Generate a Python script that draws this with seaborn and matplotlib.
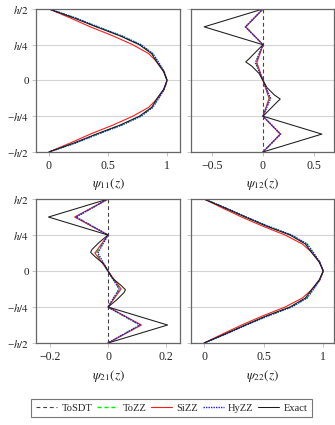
import numpy as np
import pandas as pd
import matplotlib
matplotlib.use('Agg')
import matplotlib.pyplot as plt
import seaborn as sns

sns.set_theme(style='white')
plt.rcParams['font.family'] = ['Liberation Serif', 'DejaVu Serif']
plt.rcParams['mathtext.fontset'] = 'stix'
plt.rcParams['axes.unicode_minus'] = True

# ── Data (z / h) ────────────────────────────────────────────────────────────
z_prof = [0.5, 0.4375, 0.375, 0.3125, 0.25, 0.1875, 0.125, 0.0625, 0.0,
          -0.0625, -0.125, -0.1875, -0.25, -0.3125, -0.375, -0.4375, -0.5]
z_zig = [0.5, 0.375, 0.25, 0.125, 0.0, -0.125, -0.25, -0.375, -0.5]
z_zig_exact = [0.5, 0.375, 0.25, 0.2, 0.15, 0.13, 0.1, 0.05, 0.0,
               -0.05, -0.1, -0.13, -0.15, -0.2, -0.25, -0.375, -0.5]
z_tosdt = [0.5, -0.5]
z_ticks = [-0.5, -0.25, 0, 0.25, 0.5]
z_ticklabels = ['\u2212$h/2$', '\u2212$h/4$', '0', '$h/4$', '$h/2$']

# psi_11
p11_tozz = [0, 0.22, 0.41, 0.61, 0.775, 0.875, 0.925, 0.975, 1.0,
            0.975, 0.925, 0.875, 0.775, 0.61, 0.41, 0.22, 0]
p11_sizz = [0, 0.18, 0.35, 0.54, 0.71, 0.845, 0.92, 0.975, 1.0,
            0.975, 0.92, 0.845, 0.71, 0.54, 0.35, 0.18, 0]
p11_hyzz = [0, 0.225, 0.415, 0.615, 0.78, 0.88, 0.93, 0.975, 1.0,
            0.975, 0.93, 0.88, 0.78, 0.615, 0.415, 0.225, 0]
p11_exact = [0, 0.21, 0.40, 0.60, 0.765, 0.87, 0.915, 0.97, 1.0,
             0.97, 0.915, 0.87, 0.765, 0.60, 0.40, 0.21, 0]

# psi_12
p12_tosdt = [0, 0]
p12_tozz = [0, -0.17, 0, -0.07, 0, 0.07, 0, 0.17, 0]
p12_sizz = [0, -0.17, 0, -0.06, 0, 0.06, 0, 0.17, 0]
p12_hyzz = [0, -0.175, 0, -0.075, 0, 0.075, 0, 0.175, 0]
p12_exact = [0, -0.58, 0, -0.07, -0.14, -0.17, -0.11, -0.04, 0,
             0.04, 0.11, 0.17, 0.14, 0.07, 0, 0.58, 0]

# psi_21
p21_tosdt = [0, 0]
p21_tozz = [0, -0.11, 0, -0.04, 0, 0.04, 0, 0.11, 0]
p21_sizz = [0, -0.115, 0, -0.045, 0, 0.045, 0, 0.115, 0]
p21_hyzz = [0, -0.11, 0, -0.035, 0, 0.038, 0, 0.11, 0]
p21_exact = [0, -0.205, 0, -0.03, -0.055, -0.06, -0.045, -0.015, 0,
             0.015, 0.045, 0.06, 0.055, 0.03, 0, 0.205, 0]

# psi_22
p22_tozz = [0, 0.18, 0.35, 0.53, 0.73, 0.86, 0.915, 0.97, 1.0,
            0.97, 0.915, 0.86, 0.73, 0.53, 0.35, 0.18, 0]
p22_sizz = [0, 0.155, 0.315, 0.49, 0.68, 0.825, 0.91, 0.97, 1.0,
            0.97, 0.91, 0.825, 0.68, 0.49, 0.315, 0.155, 0]
p22_hyzz = [0, 0.185, 0.355, 0.535, 0.735, 0.865, 0.92, 0.97, 1.0,
            0.97, 0.92, 0.865, 0.735, 0.535, 0.355, 0.185, 0]
p22_exact = [0, 0.175, 0.345, 0.52, 0.72, 0.85, 0.905, 0.965, 1.0,
             0.965, 0.905, 0.85, 0.72, 0.52, 0.345, 0.175, 0]

labels = ['ToSDT', 'ToZZ', 'SiZZ', 'HyZZ', 'Exact']
styles = {
    'ToSDT': dict(color='#444444', linestyle=(0, (3.5, 2.5)), linewidth=0.8),
    'ToZZ': dict(color='#00ee00', linestyle=(0, (3, 2)), linewidth=1.0),
    'SiZZ': dict(color='#ff1a1a', linestyle='-', linewidth=0.8),
    'HyZZ': dict(color='#1a1aff', linestyle=(0, (1, 0.8)), linewidth=1.0),
    'Exact': dict(color='#1a1a1a', linestyle='-', linewidth=0.75),
}

panels = [
    dict(name=r'$\psi_{11}(z)$', pos=[0.1075, 0.6424, 0.4299, 0.3365],
         xlim=(-0.11, 1.11), xticks=[0, 0.5, 1], xtl=['0', '0.5', '1'], ylab=True,
         series={'ToZZ': (p11_tozz, z_prof), 'SiZZ': (p11_sizz, z_prof),
                 'HyZZ': (p11_hyzz, z_prof), 'Exact': (p11_exact, z_prof)}),
    dict(name=r'$\psi_{12}(z)$', pos=[0.5701, 0.6424, 0.4269, 0.3365],
         xlim=(-0.71, 0.70), xticks=[-0.5, 0, 0.5], xtl=['\u22120.5', '0', '0.5'], ylab=False,
         series={'ToSDT': (p12_tosdt, z_tosdt), 'ToZZ': (p12_tozz, z_zig),
                 'SiZZ': (p12_sizz, z_zig), 'HyZZ': (p12_hyzz, z_zig),
                 'Exact': (p12_exact, z_zig_exact)}),
    dict(name=r'$\psi_{21}(z)$', pos=[0.1075, 0.1929, 0.4299, 0.3388],
         xlim=(-0.248, 0.248), xticks=[-0.2, 0, 0.2], xtl=['\u22120.2', '0', '0.2'], ylab=True,
         series={'ToSDT': (p21_tosdt, z_tosdt), 'ToZZ': (p21_tozz, z_zig),
                 'SiZZ': (p21_sizz, z_zig), 'HyZZ': (p21_hyzz, z_zig),
                 'Exact': (p21_exact, z_zig_exact)}),
    dict(name=r'$\psi_{22}(z)$', pos=[0.5701, 0.1929, 0.4269, 0.3388],
         xlim=(-0.11, 1.09), xticks=[0, 0.5, 1], xtl=['0', '0.5', '1'], ylab=False,
         series={'ToZZ': (p22_tozz, z_prof), 'SiZZ': (p22_sizz, z_prof),
                 'HyZZ': (p22_hyzz, z_prof), 'Exact': (p22_exact, z_prof)}),
]

fig = plt.figure(figsize=(3.35, 4.25), dpi=100)
handles = {}
for p in panels:
    ax = fig.add_axes(p['pos'])
    for lab in labels:
        if lab not in p['series']:
            continue
        xs, zs = p['series'][lab]
        df = pd.DataFrame({'psi': xs, 'z': zs})
        sns.lineplot(data=df, x='psi', y='z', orient='y', sort=False, ax=ax,
                     estimator=None, **styles[lab])
        handles[lab] = ax.lines[-1]
    ax.set_xlim(*p['xlim'])
    ax.set_ylim(-0.5, 0.5)
    ax.set_xticks(p['xticks'])
    ax.set_xticklabels(p['xtl'])
    ax.set_yticks(z_ticks)
    if p['ylab']:
        ax.set_yticklabels(z_ticklabels)
    else:
        ax.set_yticklabels([])
    ax.grid(axis='y', color='#d4d4d4', linewidth=0.8)
    ax.grid(axis='x', visible=False)
    ax.set_axisbelow(True)
    ax.tick_params(axis='x', which='major', direction='out', length=3, width=0.6,
                   color='#bbbbbb', labelsize=8.5, pad=3, labelcolor='#222222',
                   bottom=True)
    ax.tick_params(axis='y', which='major', direction='out', length=3, width=0.6,
                   color='#bbbbbb', labelsize=8, pad=2, labelcolor='#222222',
                   left=True)
    for s in ax.spines.values():
        s.set_color('#666666')
        s.set_linewidth(0.9)
    ax.set_xlabel(p['name'], fontsize=9.5, labelpad=3, color='#222222')
    ax.set_ylabel('')

leg = fig.legend([handles[l] for l in labels], labels, loc='center',
                 bbox_to_anchor=(0.513, 0.04), ncol=5, fontsize=7.6, frameon=True,
                 fancybox=False, handlelength=2.0, handletextpad=0.4,
                 columnspacing=0.45, borderpad=0.45)
leg.get_frame().set_edgecolor('#555555')
leg.get_frame().set_linewidth(0.8)

fig.savefig('out.png', dpi=100)
